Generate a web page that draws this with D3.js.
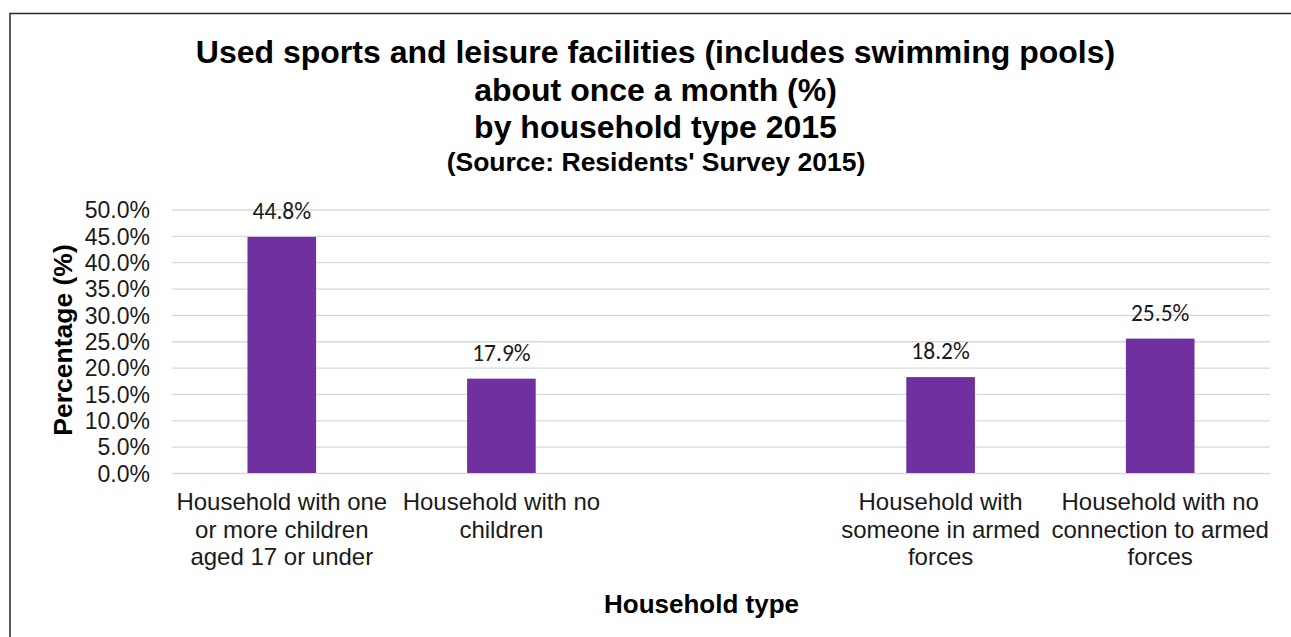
<!DOCTYPE html>
<html>
<head>
<meta charset="utf-8">
<script src="https://cdn.jsdelivr.net/npm/d3@7"></script>
<style>
  html, body { margin: 0; padding: 0; background: #fff; }
  svg { display: block; }
</style>
</head>
<body>
<svg id="chart" width="1291" height="637"></svg>
<script>
// Household types (line breaks mark label wrapping); the blank slot separates the two groups
const categories = [
  "Household with one\nor more children\naged 17 or under",
  "Household with no\nchildren",
  "",
  "Household with\nsomeone in armed\nforces",
  "Household with no\nconnection to armed\nforces"
];
// Share using sports and leisure facilities about once a month (%)
const values = [44.8, 17.9, null, 18.2, 25.5];
const yTicks = [0, 5, 10, 15, 20, 25, 30, 35, 40, 45, 50];

const titleLines = [
  "Used sports and leisure facilities (includes swimming pools)",
  "about once a month (%)",
  "by household type 2015"
];
const subtitle = "(Source: Residents' Survey 2015)";
const yTitle = "Percentage (%)";
const xTitle = "Household type";

const svg = d3.select("#chart");
const W = 1291, H = 637;
const plot = { left: 172, right: 1270, top: 209.5, bottom: 473 };

// chart frame (open to the right and bottom)
svg.append("path")
  .attr("d", `M10,${H} L10,13.5 L${W},13.5`)
  .attr("fill", "none")
  .attr("stroke", "#262626")
  .attr("stroke-width", 1.5);

const x = d3.scaleBand()
  .domain(d3.range(categories.length))
  .range([plot.left, plot.right])
  .paddingInner(0.6875)
  .paddingOuter(0.34375);

const band = d3.scaleBand()
  .domain(d3.range(categories.length))
  .range([plot.left, plot.right]);

const y = d3.scaleLinear().domain([0, 50]).range([plot.bottom, plot.top]);

// gridlines and y axis labels
const yAxis = d3.axisLeft(y)
  .tickValues(yTicks)
  .tickSize(-(plot.right - plot.left))
  .tickPadding(22)
  .tickFormat(d => d3.format(".1f")(d) + "%");

const gy = svg.append("g")
  .attr("transform", `translate(${plot.left},0)`)
  .call(yAxis);
gy.select(".domain").remove();
gy.selectAll(".tick line").attr("stroke", "#d9d9d9").attr("stroke-width", 1.3);
gy.selectAll(".tick text")
  .attr("fill", "#1a1a1a")
  .style("font-family", "'Liberation Sans', Arial, sans-serif")
  .style("font-size", "23px")
  .attr("dy", "0.36em");

// bars
const data = categories.map((c, i) => ({ i, c, v: values[i] })).filter(d => d.v != null);

svg.append("g").selectAll("rect")
  .data(data)
  .join("rect")
  .attr("x", d => x(d.i))
  .attr("width", x.bandwidth())
  .attr("y", d => y(d.v))
  .attr("height", d => y(0) - y(d.v))
  .attr("fill", "#7030a0");

// value labels
svg.append("g").selectAll("text")
  .data(data)
  .join("text")
  .attr("x", d => x(d.i) + x.bandwidth() / 2)
  .attr("y", d => y(d.v) - 18)
  .attr("text-anchor", "middle")
  .attr("fill", "#1a1a1a")
  .style("font-family", "Carlito, Lato, sans-serif")
  .style("font-size", "23.5px")
  .text(d => d3.format(".1f")(d.v) + "%");

// category labels
const catG = svg.append("g");
categories.forEach((c, i) => {
  if (!c) return;
  const t = catG.append("text")
    .attr("x", band(i) + band.bandwidth() / 2)
    .attr("y", 510)
    .attr("text-anchor", "middle")
    .attr("fill", "#1a1a1a")
    .style("font-family", "'Liberation Sans', Arial, sans-serif")
    .style("font-size", "24px");
  c.split("\n").forEach((line, k) => {
    t.append("tspan")
      .attr("x", band(i) + band.bandwidth() / 2)
      .attr("dy", k === 0 ? 0 : 27.5)
      .text(line);
  });
});

// titles
const titleG = svg.append("g")
  .attr("text-anchor", "middle")
  .attr("fill", "#000")
  .style("font-family", "'Liberation Sans', Arial, sans-serif")
  .style("font-weight", "bold");

const titleBase = [63, 101, 138];
titleLines.forEach((line, k) => {
  titleG.append("text")
    .attr("x", 655.5)
    .attr("y", titleBase[k])
    .style("font-size", "32px")
    .text(line);
});
titleG.append("text")
  .attr("x", 656)
  .attr("y", 171)
  .style("font-size", "26.5px")
  .text(subtitle);

// axis titles
svg.append("text")
  .attr("transform", `translate(72,340) rotate(-90)`)
  .attr("text-anchor", "middle")
  .style("font-family", "'Liberation Sans', Arial, sans-serif")
  .style("font-weight", "bold")
  .style("font-size", "26.5px")
  .text(yTitle);

svg.append("text")
  .attr("x", 701.5)
  .attr("y", 613)
  .attr("text-anchor", "middle")
  .style("font-family", "'Liberation Sans', Arial, sans-serif")
  .style("font-weight", "bold")
  .style("font-size", "26px")
  .text(xTitle);
</script>
</body>
</html>
